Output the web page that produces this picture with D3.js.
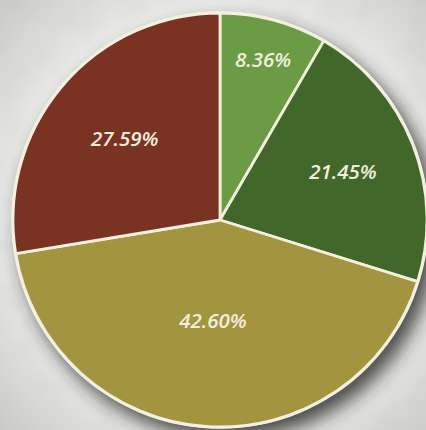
<!DOCTYPE html>
<html>
<head>
<meta charset="utf-8">
<script src="https://cdn.jsdelivr.net/npm/d3@7"></script>
<style>
  html, body { margin: 0; padding: 0; background: #e6e6e4; }
  svg { display: block; }
</style>
</head>
<body>
<svg id="chart" width="426" height="430"></svg>
<script>
// Share of each segment, clockwise from twelve o'clock
const segments = ["Segment A", "Segment B", "Segment C", "Segment D"];
const shares = [8.36, 21.45, 42.60, 27.59];
const shareLabels = ["8.36%", "21.45%", "42.60%", "27.59%"];
const sliceColors = ["#6c9b46", "#41672b", "#a3953f", "#7a3222"];

// Distance of each label from the centre, along the slice's mid angle
const labelRadii = [166, 132, 101, 125];

const W = 426, H = 430;
const cx = 220, cy = 220, R = 207;

const svg = d3.select("#chart");
const defs = svg.append("defs");

// Paper backdrop: light wash that greys towards the corners
const bg = defs.append("radialGradient").attr("id", "paper")
  .attr("cx", "52%").attr("cy", "50%").attr("r", "72%");
bg.append("stop").attr("offset", "0%").attr("stop-color", "#f8f8f6");
bg.append("stop").attr("offset", "60%").attr("stop-color", "#f0f0ee");
bg.append("stop").attr("offset", "100%").attr("stop-color", "#c9c9c7");

const mottle = defs.append("filter").attr("id", "mottle")
  .attr("x", 0).attr("y", 0).attr("width", "100%").attr("height", "100%");
mottle.append("feTurbulence").attr("type", "fractalNoise")
  .attr("baseFrequency", 0.025).attr("numOctaves", 3).attr("seed", 7).attr("result", "n");
mottle.append("feColorMatrix").attr("in", "n").attr("type", "matrix")
  .attr("values", "0 0 0 0 0.55  0 0 0 0 0.55  0 0 0 0 0.54  1.2 0 0 0 -0.55");

const shadow = defs.append("filter").attr("id", "shadow")
  .attr("x", "-20%").attr("y", "-20%").attr("width", "140%").attr("height", "140%");
shadow.append("feGaussianBlur").attr("stdDeviation", 9);

svg.append("rect").attr("width", W).attr("height", H).attr("fill", "url(#paper)");
svg.append("rect").attr("width", W).attr("height", H).attr("filter", "url(#mottle)").attr("opacity", 0.35);

// Drop shadow under the disc, pushed to the lower right
svg.append("circle")
  .attr("cx", cx + 8).attr("cy", cy + 10).attr("r", R + 2)
  .attr("fill", "#262626").attr("opacity", 0.8)
  .attr("filter", "url(#shadow)");

const pie = d3.pie().sort(null).value(d => d);
const arcs = pie(shares);
const arc = d3.arc().innerRadius(0).outerRadius(R);

const g = svg.append("g").attr("transform", `translate(${cx},${cy})`);

// Cream rim around the whole disc
g.append("circle").attr("r", R + 1.8).attr("fill", "#f5f2e4");

g.selectAll("path.slice")
  .data(arcs)
  .join("path")
  .attr("class", "slice")
  .attr("d", arc)
  .attr("fill", (d, i) => sliceColors[i])
  .attr("stroke", "#f3f0df")
  .attr("stroke-width", 2.8)
  .attr("stroke-linejoin", "round");

g.selectAll("text.share")
  .data(arcs)
  .join("text")
  .attr("class", "share")
  .attr("transform", (d, i) => {
    const a = (d.startAngle + d.endAngle) / 2;
    const r = labelRadii[i];
    return `translate(${r * Math.sin(a)},${-r * Math.cos(a)})`;
  })
  .attr("text-anchor", "middle")
  .attr("dy", "0.36em")
  .attr("font-family", "'Open Sans', Lato, sans-serif")
  .attr("font-style", "italic")
  .attr("font-weight", 600)
  .attr("font-size", 20.5)
  .attr("fill", "#f2eedd")
  .text((d, i) => shareLabels[i]);
</script>
</body>
</html>
